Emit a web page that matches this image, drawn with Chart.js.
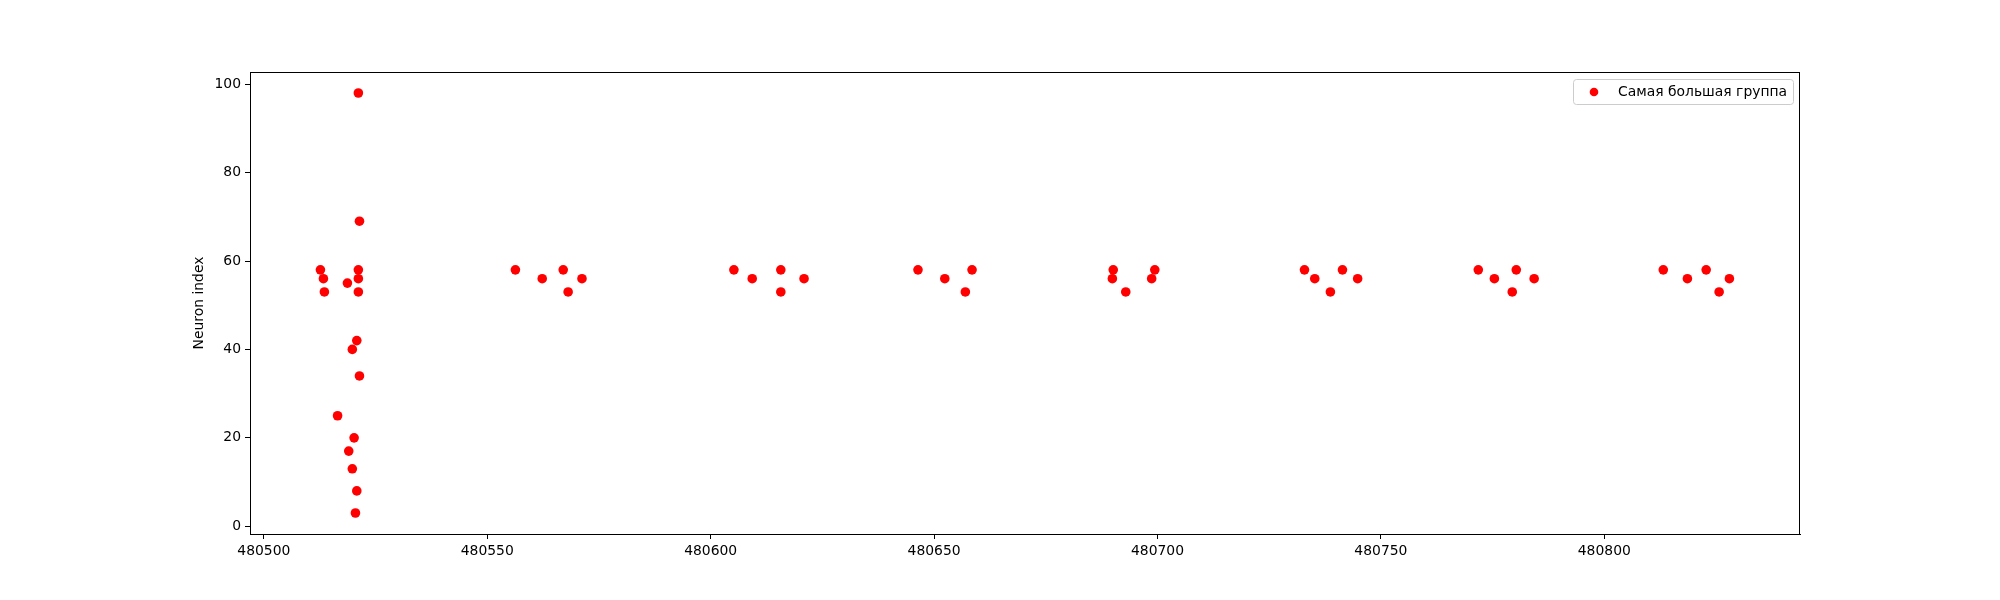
<!DOCTYPE html>
<html lang="ru">
<head>
  <meta charset="UTF-8">
  <title>Самая большая группа</title>
  <script src="https://cdn.jsdelivr.net/npm/chart.js"></script>
  <style>
    body { margin: 0; background: #fff; }
    canvas { display: block; }
  </style>
</head>
<body>
  <canvas id="groupChart" width="2000" height="600"></canvas>

  <script>
    // spike times (x) and neuron indices (y) of the largest group
    const spikeTimes = [
      480521.15, 480521.4, 480512.66, 480513.33, 480513.55, 480518.7,
      480521.15, 480521.15, 480521.15, 480520.8, 480519.8, 480521.4,
      480516.5, 480520.2, 480519.0, 480519.8, 480520.8, 480520.5,
      480556.3, 480562.3, 480567.0, 480568.1, 480571.2,
      480605.2, 480609.3, 480615.7, 480615.7, 480620.9,
      480646.4, 480652.4, 480657.0, 480658.5,
      480690.1, 480689.9, 480692.9, 480699.4, 480698.7,
      480732.9, 480735.2, 480738.7, 480741.4, 480744.8,
      480771.8, 480775.4, 480779.4, 480780.3, 480784.3,
      480813.2, 480818.6, 480822.8, 480825.7, 480828.0
    ];
    const neuronIdx = [
      98, 69, 58, 56, 53, 55,
      58, 56, 53, 42, 40, 34,
      25, 20, 17, 13, 8, 3,
      58, 56, 58, 53, 56,
      58, 56, 58, 53, 56,
      58, 56, 53, 58,
      58, 56, 53, 58, 56,
      58, 56, 53, 58, 56,
      58, 56, 53, 58, 56,
      58, 56, 58, 53, 56
    ];
    const xTicks = [480500, 480550, 480600, 480650, 480700, 480750, 480800];
    const yTicks = [0, 20, 40, 60, 80, 100];
    const seriesLabel = 'Самая большая группа';

    const FONT = 'DejaVu Sans, sans-serif';

    // frame round the plot + legend inside the axes (matplotlib style)
    const framePlugin = {
      id: 'frame',
      afterDraw(chart) {
        const { ctx, chartArea: a } = chart;
        ctx.save();
        ctx.strokeStyle = '#000';
        ctx.lineWidth = 1;
        ctx.strokeRect(a.left + 0.5, a.top + 0.5, a.right - a.left - 1, a.bottom - a.top);

        // legend box
        const w = 220, h = 25;
        const bx = a.right - 7 - w, by = a.top + 7;
        ctx.beginPath();
        ctx.roundRect(bx + 0.5, by + 0.5, w, h, 3);
        ctx.fillStyle = 'rgba(255,255,255,0.8)';
        ctx.fill();
        ctx.strokeStyle = '#cccccc';
        ctx.stroke();

        ctx.beginPath();
        ctx.arc(bx + 21, by + 13, 4.3, 0, Math.PI * 2);
        ctx.fillStyle = 'red';
        ctx.fill();

        ctx.fillStyle = '#000';
        ctx.font = '13.9px ' + FONT;
        ctx.textBaseline = 'middle';
        ctx.fillText(seriesLabel, bx + 45, by + 13);
        ctx.restore();
      }
    };

    const ctx = document.getElementById('groupChart').getContext('2d');
    new Chart(ctx, {
      type: 'scatter',
      data: {
        datasets: [{
          label: seriesLabel,
          data: spikeTimes.map((t, i) => ({ x: t, y: neuronIdx[i] })),
          backgroundColor: 'red',
          borderColor: 'red',
          pointRadius: 4.8,
          pointHoverRadius: 4.8,
          borderWidth: 0
        }]
      },
      options: {
        responsive: false,
        animation: false,
        devicePixelRatio: 1,
        layout: { padding: { left: 191, right: 200, top: 72, bottom: 0 } },
        plugins: {
          legend: { display: false },
          tooltip: { enabled: false }
        },
        scales: {
          x: {
            type: 'linear',
            min: 480496.9,
            max: 480843.8,
            afterFit(scale) { scale.height = 66; },
            afterBuildTicks(scale) { scale.ticks = xTicks.map(v => ({ value: v })); },
            grid: { drawOnChartArea: false, drawTicks: true, tickLength: 5, color: '#000' },
            border: { color: '#000' },
            ticks: {
              color: '#000',
              padding: 4,
              maxRotation: 0,
              font: { family: FONT, size: 13.9 },
              callback: v => String(v)
            }
          },
          y: {
            min: -1.75,
            max: 102.75,
            afterFit(scale) { scale.width = 59; },
            afterBuildTicks(scale) { scale.ticks = yTicks.map(v => ({ value: v })); },
            grid: { drawOnChartArea: false, drawTicks: true, tickLength: 5, color: '#000' },
            border: { color: '#000' },
            title: {
              display: true,
              text: 'Neuron index',
              color: '#000',
              font: { family: FONT, size: 13.9 },
              padding: { top: 0, bottom: 0 }
            },
            ticks: {
              color: '#000',
              padding: 4,
              font: { family: FONT, size: 13.9 },
              callback: v => String(v)
            }
          }
        }
      },
      plugins: [framePlugin]
    });
  </script>
</body>
</html>
